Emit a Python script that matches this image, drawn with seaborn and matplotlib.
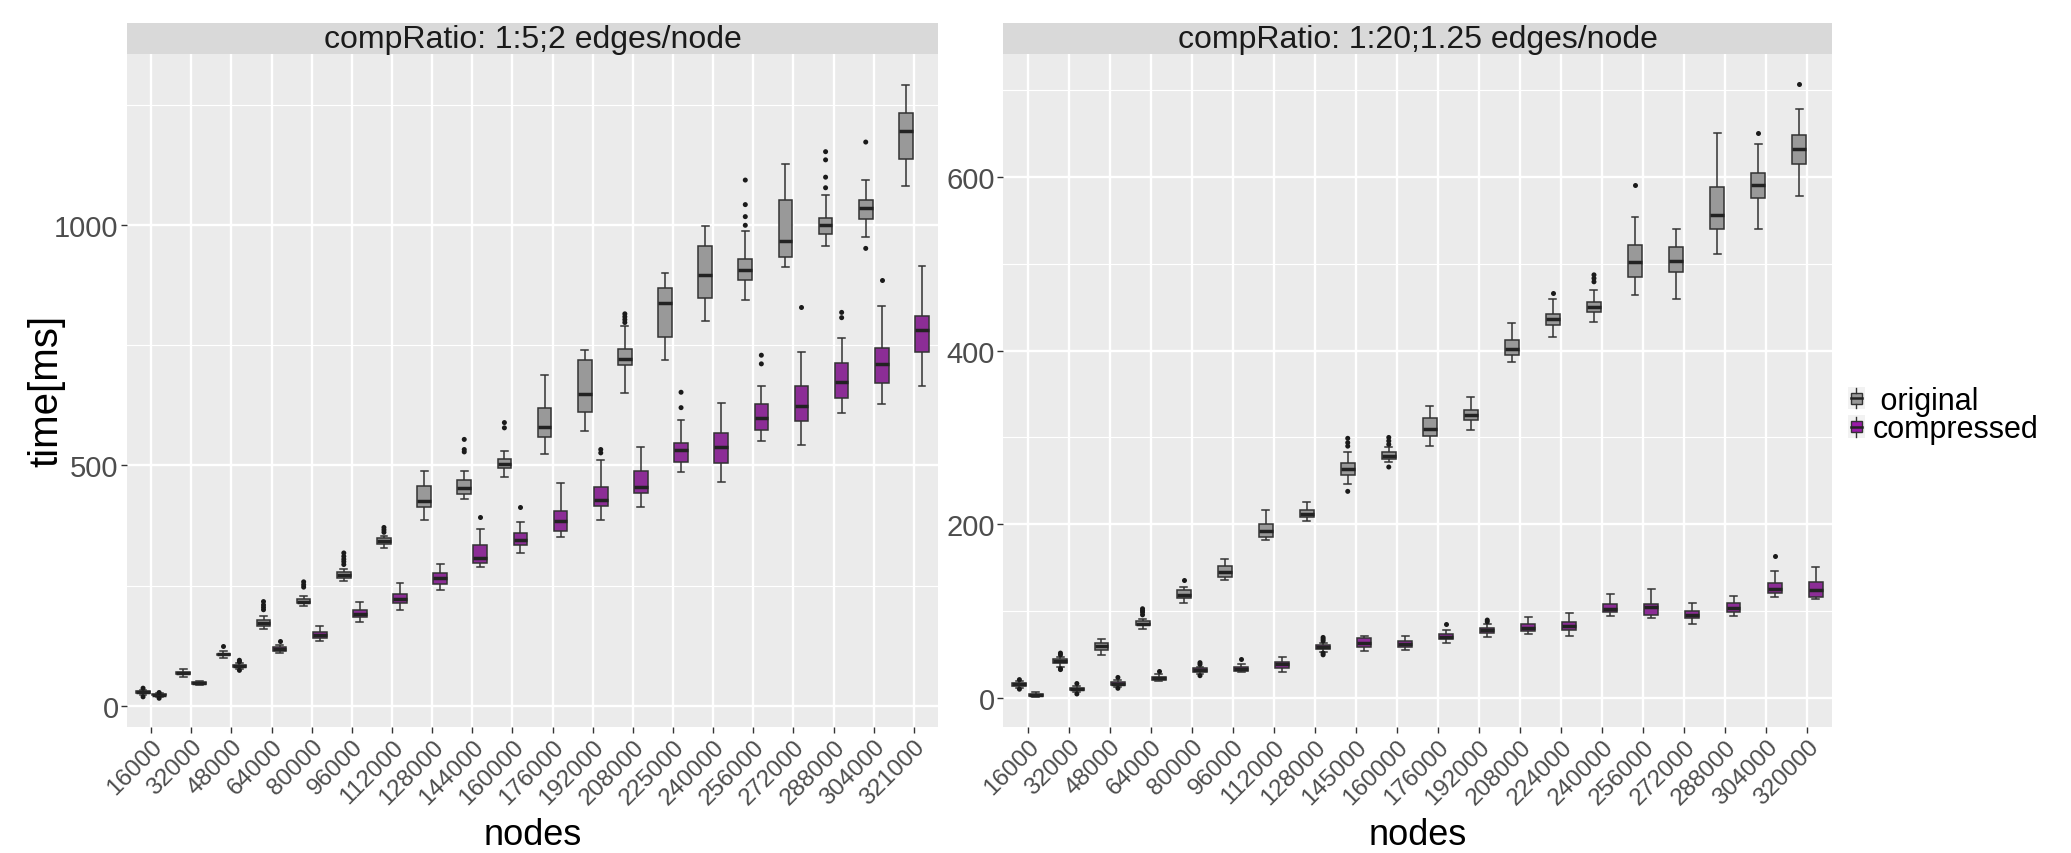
import numpy as np
import pandas as pd
import matplotlib
matplotlib.use("Agg")
import matplotlib.pyplot as plt
import seaborn as sns
from matplotlib.patches import Rectangle, Patch
from matplotlib.lines import Line2D
from matplotlib.legend_handler import HandlerBase

# ---------------- data ----------------
left_title = "compRatio: 1:5;2 edges/node"
right_title = "compRatio: 1:20;1.25 edges/node"
types = ["original", "compressed"]

left_nodes = ["16000", "32000", "48000", "64000", "80000", "96000", "112000",
              "128000", "144000", "160000", "176000", "192000", "208000",
              "225000", "240000", "256000", "272000", "288000", "304000", "321000"]
right_nodes = ["16000", "32000", "48000", "64000", "80000", "96000", "112000",
               "128000", "145000", "160000", "176000", "192000", "208000",
               "224000", "240000", "256000", "272000", "288000", "304000", "320000"]

# box stats per node: (lower whisker, q1, median, q3, upper whisker)
left_orig = [(23, 26.5, 28.5, 30.5, 34), (61, 66, 68, 71, 76), (100, 105, 107, 109, 115),
             (160, 166, 172, 179, 186), (207, 214, 217, 222, 228), (259, 266, 272, 278, 284),
             (328, 337, 342, 349, 354), (386, 413, 426, 458, 488), (431, 441, 453, 470, 488),
             (476, 495, 502, 514, 530), (524, 559, 579, 619, 687), (571, 612, 648, 718, 740),
             (650, 708, 722, 741, 790), (720, 767, 838, 868, 900), (800, 847, 895, 955, 997),
             (844, 886, 906, 928, 987), (912, 934, 966, 1052, 1126), (957, 980, 999, 1015, 1061),
             (974, 1013, 1035, 1052, 1093), (1081, 1137, 1196, 1233, 1291)]
left_orig_out = [[37, 19], [], [125], [200, 205, 210, 217], [247, 252, 258],
                 [294, 300, 305, 311, 318], [361, 366, 371], [], [528, 533, 554], [578, 589],
                 [], [], [797, 803, 809, 815], [], [], [999, 1017, 1042, 1093], [],
                 [1077, 1099, 1135, 1152], [951, 1172], []]

left_comp = [(19.5, 22, 23, 24, 26), (44, 46, 48, 50, 52), (77, 81, 83, 85, 89),
             (111, 115, 118, 122, 127), (136, 141, 147, 153, 167), (174, 185, 192, 199, 217),
             (200, 213, 222, 232, 256), (242, 253, 265, 276, 296), (288, 297, 308, 334, 367),
             (318, 335, 345, 360, 382), (351, 363, 385, 406, 464), (386, 415, 429, 456, 512),
             (414, 443, 456, 488, 539), (486, 508, 531, 547, 594), (465, 505, 538, 568, 629),
             (551, 574, 598, 627, 666), (542, 592, 624, 666, 735), (609, 641, 673, 713, 765),
             (627, 671, 710, 744, 831), (666, 736, 781, 811, 915)]
left_comp_out = [[28, 16], [], [74, 92, 95], [134], [], [], [], [], [392], [414], [],
                 [526, 533], [], [620, 652], [], [711, 729], [829], [807, 818], [885], []]

right_orig = [(12, 14.5, 16, 17.5, 20), (36, 41, 43, 45, 48), (50, 56, 60, 64, 68),
              (80, 84, 86, 89, 91), (110, 115, 119, 124, 128), (136, 139, 145, 152, 160),
              (182, 185, 192, 200, 216), (204, 208, 212, 217, 226), (246, 257, 264, 271, 283),
              (272, 275, 279, 283, 289), (290, 302, 310, 322, 336), (308, 320, 326, 332, 346),
              (387, 395, 402, 412, 432), (415, 429, 436, 442, 459), (433, 444, 450, 456, 470),
              (464, 484, 502, 521, 553), (459, 490, 503, 519, 540), (511, 540, 556, 588, 650),
              (540, 575, 590, 604, 638), (578, 615, 632, 648, 678)]
right_orig_out = [[21.5, 10.5], [33, 34, 50, 52], [], [96, 99, 101, 103], [136], [], [], [],
                  [238, 290, 294, 299], [266, 292, 296, 300], [], [], [], [466],
                  [479, 483, 487], [590], [], [], [650], [706]]

right_comp = [(1.5, 2.5, 4, 5.5, 7), (7.7, 9.6, 11, 12, 14.5), (13, 15, 17, 19, 21),
              (20, 21, 23, 24.5, 27.6), (27.6, 30.6, 32.6, 34.5, 36), (30, 31, 34, 36, 39.5),
              (30, 35, 39, 42, 48), (53, 57, 59, 61, 64), (54, 59, 64, 69, 72),
              (56, 59, 63, 66, 72), (64, 68, 71, 74, 79), (70, 75.5, 78, 81, 86),
              (74, 77, 81, 86, 94), (72, 79, 83.5, 88, 98), (95, 99, 103, 108, 120),
              (92, 96, 105, 109, 126), (86, 92, 96, 100, 110), (95, 99, 104, 110, 118),
              (116, 121, 126, 133, 146), (114, 117, 124, 134, 151)]
right_comp_out = [[], [5, 17], [11.5, 24], [31], [26, 39, 41], [45], [],
                  [50, 52, 66, 68, 70], [], [], [85], [88, 90], [], [], [], [], [], [],
                  [164], []]

left_yticks = [0, 500, 1000]
left_yminor = [250, 750, 1250]
right_yticks = [0, 200, 400, 600]
right_yminor = [100, 300, 500, 700]

fill_colors = {"original": "#999999", "compressed": "#9A1BA8"}


# ---------------- helpers ----------------
def box_samples(stat, m=20):
    """sample whose quartiles/min/max reproduce the five read values"""
    wlo, q1, med, q3, whi = stat
    return [wlo] + [q1] * (m - 1) + [med] + [q3] * (m - 1) + [whi]


def build_frames(nodes, orig, orig_out, comp, comp_out):
    box_rows, out_rows = [], []
    for t, stats, outs in (("original", orig, orig_out), ("compressed", comp, comp_out)):
        for n, st, ol in zip(nodes, stats, outs):
            for v in box_samples(st):
                box_rows.append((n, t, v))
            for v in ol:
                out_rows.append((n, t, v))
    cols = ["nodes", "type", "time"]
    return pd.DataFrame(box_rows, columns=cols), pd.DataFrame(out_rows, columns=cols)


plt.rcParams["font.family"] = ["Liberation Sans", "DejaVu Sans"]

W, H = 2071, 854
fig = plt.figure(figsize=(W / 100, H / 100), dpi=100)
fig.patch.set_facecolor("white")

panels = [
    (left_title, left_nodes, left_orig, left_orig_out, left_comp, left_comp_out,
     (127, 55, 938, 728), (-43.7, 1355), left_yticks, left_yminor),
    (right_title, right_nodes, right_orig, right_orig_out, right_comp, right_comp_out,
     (1003, 55, 1832, 728), (-33, 741), right_yticks, right_yminor),
]

for (title, nodes, o, oo, c, co, (x0, y0, x1, y1), ylim, yt, ym) in panels:
    ax = fig.add_axes([x0 / W, 1 - y1 / H, (x1 - x0) / W, (y1 - y0) / H])
    dfb, dfo = build_frames(nodes, o, oo, c, co)
    sns.boxplot(data=dfb, x="nodes", y="time", hue="type", order=nodes, hue_order=types,
                palette=fill_colors, width=0.8, gap=0.15, whis=(0, 100),
                showfliers=False, linewidth=1.1, linecolor="#333333",
                medianprops={"linewidth": 2.5, "color": "#222222"},
                legend=False, ax=ax)
    sns.stripplot(data=dfo, x="nodes", y="time", hue="type", order=nodes, hue_order=types,
                  dodge=True, jitter=False, palette={"original": "#1a1a1a", "compressed": "#1a1a1a"},
                  size=3.6, linewidth=0, legend=False, ax=ax, zorder=5)
    ax.set_facecolor("#EBEBEB")
    for s in ax.spines.values():
        s.set_visible(False)
    ax.set_xlim(-0.6, len(nodes) - 1 + 0.6)
    ax.set_ylim(*ylim)
    ax.set_yticks(yt)
    ax.set_yticks(ym, minor=True)
    ax.set_axisbelow(True)
    ax.grid(True, which="major", axis="both", color="white", linewidth=1.7)
    ax.grid(True, which="minor", axis="y", color="white", linewidth=0.8)
    ax.tick_params(axis="both", which="major", length=4, width=1.0, color="#333333",
                   labelcolor="#4D4D4D", pad=2)
    ax.tick_params(axis="y", which="major", labelsize=21)
    ax.tick_params(axis="x", which="major", labelsize=17.5)
    ax.tick_params(which="minor", length=0)
    for lab in ax.get_xticklabels():
        lab.set_rotation(45)
        lab.set_ha("right")
        lab.set_va("top")
        lab.set_rotation_mode("anchor")
    ax.set_ylabel("")
    ax.set_xlabel("nodes", fontsize=26, color="black")
    ax.xaxis.set_label_coords(0.5, -0.16)
    ax.xaxis.label.set_va("center")
    # facet strip
    ph = y1 - y0
    sh = 31 / ph
    ax.add_patch(Rectangle((0, 1), 1, sh, transform=ax.transAxes, clip_on=False,
                           facecolor="#D9D9D9", edgecolor="none"))
    ax.text(0.5, 1 + sh / 2, title, transform=ax.transAxes, ha="center", va="center",
            fontsize=23, color="#1A1A1A")

fig.text(46 / W, 1 - 391 / H, "time[ms]", rotation=90, ha="center", va="center",
         fontsize=29, color="black")


class BoxKeyHandler(HandlerBase):
    def create_artists(self, legend, orig_handle, xdescent, ydescent, width, height,
                       fontsize, trans):
        x0, y0 = -xdescent, -ydescent
        fc = orig_handle.get_facecolor()
        bg = Rectangle((x0, y0), width, height, facecolor="#F2F2F2", edgecolor="none",
                       transform=trans)
        bx = Rectangle((x0 + width * 0.15, y0 + height * 0.25), width * 0.7, height * 0.5,
                       facecolor=fc, edgecolor="#333333", linewidth=1.0, transform=trans)
        xc = x0 + width / 2
        med = Line2D([x0 + width * 0.15, x0 + width * 0.85], [y0 + height / 2] * 2,
                     color="#222222", linewidth=1.8, transform=trans)
        w1 = Line2D([xc, xc], [y0 + height * 0.75, y0 + height * 0.95], color="#333333",
                    linewidth=1.0, transform=trans)
        w2 = Line2D([xc, xc], [y0 + height * 0.05, y0 + height * 0.25], color="#333333",
                    linewidth=1.0, transform=trans)
        return [bg, bx, med, w1, w2]


handles = [Patch(facecolor=fill_colors[t]) for t in types]
fig.legend(handles, [" original", "compressed"], loc="center left",
           bbox_to_anchor=(1848 / W, 1 - 416 / H), frameon=False, fontsize=22,
           handlelength=0.55, handleheight=0.75, handletextpad=0.25, labelspacing=-0.05,
           borderpad=0, borderaxespad=0,
           handler_map={Patch: BoxKeyHandler()})

fig.savefig("out.png", dpi=100, facecolor="white")
